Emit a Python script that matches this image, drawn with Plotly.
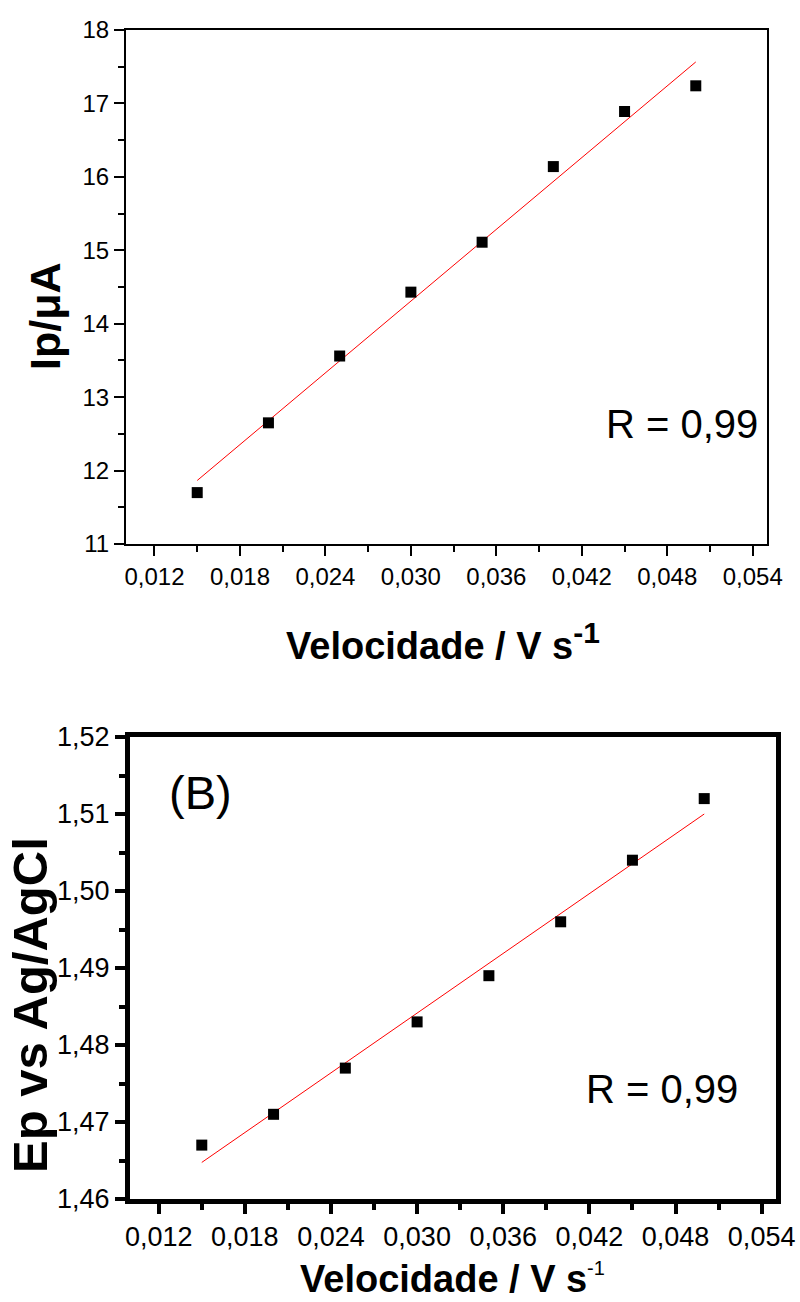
import numpy as np
import plotly.graph_objects as go

# ---- data ----
velocidade = [0.015, 0.020, 0.025, 0.030, 0.035, 0.040, 0.045, 0.050]
ip_uA = [11.70, 12.65, 13.56, 14.43, 15.11, 16.14, 16.89, 17.24]
ep_V = [1.467, 1.471, 1.477, 1.483, 1.489, 1.496, 1.504, 1.512]

x_ticks = [0.012, 0.018, 0.024, 0.030, 0.036, 0.042, 0.048, 0.054]
ip_ticks = [11, 12, 13, 14, 15, 16, 17, 18]
ep_ticks = [1.46, 1.47, 1.48, 1.49, 1.50, 1.51, 1.52]

# linear fits
v = np.array(velocidade)
fit_ip = np.polyval(np.polyfit(v, ip_uA, 1), [v.min(), v.max()])
fit_ep = np.polyval(np.polyfit(v, ep_V, 1), [v.min(), v.max()])

W, H = 800, 1302
FONT = "Arial, 'Liberation Sans', sans-serif"

def px(x):
    return x / W

def py(y):
    return 1 - y / H

fig = go.Figure()

# top panel
fig.add_trace(go.Scatter(x=[v.min(), v.max()], y=fit_ip, mode="lines",
                         line=dict(color="#ff0000", width=1), xaxis="x", yaxis="y",
                         showlegend=False))
fig.add_trace(go.Scatter(x=velocidade, y=ip_uA, mode="markers",
                         marker=dict(symbol="square", size=11, color="black"),
                         xaxis="x", yaxis="y", showlegend=False))
# bottom panel
fig.add_trace(go.Scatter(x=[v.min(), v.max()], y=fit_ep, mode="lines",
                         line=dict(color="#ff0000", width=1), xaxis="x2", yaxis="y2",
                         showlegend=False))
fig.add_trace(go.Scatter(x=velocidade, y=ep_V, mode="markers",
                         marker=dict(symbol="square", size=11, color="black"),
                         xaxis="x2", yaxis="y2", showlegend=False))

common_top = dict(showgrid=False, zeroline=False, showline=True, linecolor="black",
                  linewidth=2, mirror=True, ticks="outside", ticklen=10, tickwidth=2,
                  tickcolor="black", automargin=False,
                  tickfont=dict(family=FONT, size=24, color="black"))
common_bot = dict(showgrid=False, zeroline=False, showline=True, linecolor="black",
                  linewidth=5, mirror=True, ticks="outside", ticklen=10, tickwidth=4,
                  tickcolor="black", automargin=False,
                  tickfont=dict(family=FONT, size=27, color="black"))

fig.update_layout(
    template="none",
    width=W, height=H,
    margin=dict(l=0, r=0, t=0, b=0, pad=0),
    paper_bgcolor="white", plot_bgcolor="white",
    font=dict(family=FONT, size=24, color="black"),
    separators=",.",
    xaxis=dict(domain=[px(126), px(767)], anchor="y", range=[0.010, 0.055],
               tickvals=x_ticks, tickformat=".3f",
               minor=dict(ticks="outside", ticklen=6, tickwidth=2, dtick=0.003,
                          tick0=0.009, tickcolor="black"),
               **common_top),
    yaxis=dict(domain=[py(544), py(30)], anchor="x", range=[11, 18],
               tickvals=ip_ticks, tickformat="d",
               minor=dict(ticks="outside", ticklen=6, tickwidth=2, dtick=0.5,
                          tick0=11, tickcolor="black"),
               **common_top),
    xaxis2=dict(domain=[px(130), px(776)], anchor="y2", range=[0.010, 0.055],
                tickvals=x_ticks, tickformat=".3f",
                minor=dict(ticks="outside", ticklen=6, tickwidth=4, dtick=0.003,
                           tick0=0.009, tickcolor="black"),
                **common_bot),
    yaxis2=dict(domain=[py(1199), py(737)], anchor="x2", range=[1.46, 1.52],
                tickvals=ep_ticks, tickformat=".2f",
                minor=dict(ticks="outside", ticklen=6, tickwidth=4, dtick=0.005,
                           tick0=1.46, tickcolor="black"),
                **common_bot),
)

ann = []
# top panel texts
ann.append(dict(text="<b>Velocidade / V s<sup><span style='font-size:30px'>-1</span></sup></b>",
                x=px(443), y=py(641), xref="paper", yref="paper",
                xanchor="center", yanchor="middle", showarrow=False,
                font=dict(family=FONT, size=38, color="black")))
ann.append(dict(text="<b>Ip/μA</b>", textangle=-90,
                x=px(45), y=py(316), xref="paper", yref="paper",
                xanchor="center", yanchor="middle", showarrow=False,
                font=dict(family=FONT, size=43, color="black")))
ann.append(dict(text="R = 0,99",
                x=px(682), y=py(424), xref="paper", yref="paper",
                xanchor="center", yanchor="middle", showarrow=False,
                font=dict(family=FONT, size=40, color="black")))
# bottom panel texts
ann.append(dict(text="<b>Velocidade / V s</b>",
                x=px(443), y=0, xref="paper", yref="paper",
                xanchor="center", yanchor="bottom", showarrow=False,
                font=dict(family=FONT, size=38, color="black")))
ann.append(dict(text="-1",
                x=px(585), y=py(1268), xref="paper", yref="paper",
                xanchor="left", yanchor="middle", showarrow=False,
                font=dict(family=FONT, size=20, color="black")))
ann.append(dict(text="<b>Ep vs Ag/AgCl</b>", textangle=-90,
                x=px(30), y=py(1005), xref="paper", yref="paper",
                xanchor="center", yanchor="middle", showarrow=False,
                font=dict(family=FONT, size=49, color="black")))
ann.append(dict(text="(B)",
                x=px(201), y=py(792), xref="paper", yref="paper",
                xanchor="center", yanchor="middle", showarrow=False,
                font=dict(family=FONT, size=47, color="black")))
ann.append(dict(text="R = 0,99",
                x=px(662), y=py(1089), xref="paper", yref="paper",
                xanchor="center", yanchor="middle", showarrow=False,
                font=dict(family=FONT, size=40, color="black")))
fig.update_layout(annotations=ann)

fig.write_html("out.html")
